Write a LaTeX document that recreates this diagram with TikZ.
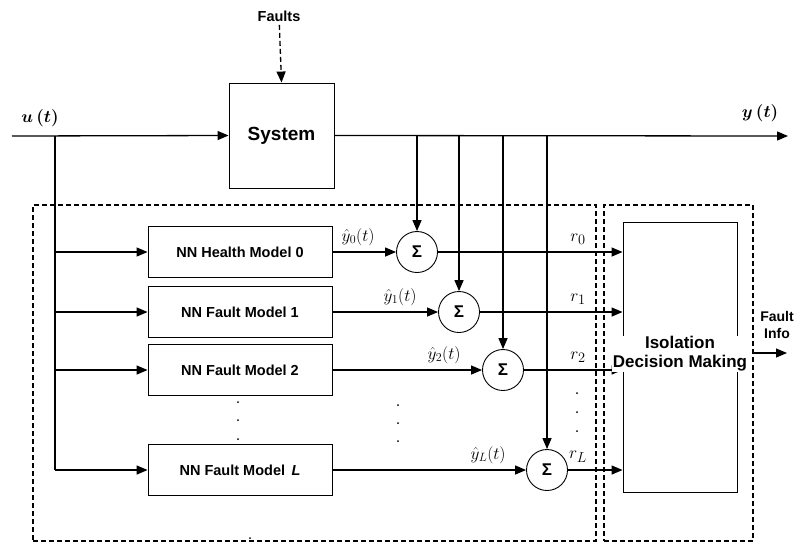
\documentclass[tikz,border=0pt]{standalone}
\usepackage{fontspec}
\setmainfont{Liberation Sans}
\usepackage{tikz}
\usetikzlibrary{positioning, arrows.meta}

\tikzset{
  sig/.style={-{Triangle[length=11pt,width=9pt]}, line width=1.3pt},
  wire/.style={line width=1.3pt},
  blockbox/.style={draw, line width=0.9pt, minimum width=184pt, minimum height=51pt,
    inner sep=0pt, font=\bfseries\fontsize{14.5}{17}\selectfont},
  sumnode/.style={draw, circle, line width=0.9pt, minimum size=41pt, inner sep=0pt,
    font=\bfseries\fontsize{17}{19}\selectfont},
  groupbox/.style={draw, line width=1.8pt, dash pattern=on 5pt off 3pt,
    inner sep=0pt},
  mathlab/.style={font=\fontsize{17}{19}\selectfont},
  reslab/.style={font=\fontsize{19}{21}\selectfont},
  boldmath/.style={font=\fontsize{19}{21}\selectfont\boldmath},
}

\begin{document}
\begin{tikzpicture}[x=1pt, y=-1pt]
    \useasboundingbox (0,0) rectangle (794,542);
    % Plant and fault input
    \node[blockbox, minimum width=105pt, minimum height=105pt,
          font=\bfseries\fontsize{19}{21}\selectfont] (sys) at (281.5,135.5) {System};
    \node[font=\bfseries\fontsize{14.5}{16}\selectfont] (faults) at (279,16) {Faults};
    \draw[sig, dash pattern=on 5pt off 3pt] (faults) -- (sys.north);
    \coordinate (uin) at (12,136);
    \coordinate (ubr) at (55,136);
    \coordinate (yout) at (788,136);
    \node[boldmath] (ulab) at (40,118) {$u\,(t)$};
    \node[boldmath] (ylab) at (760,113) {$y\,(t)$};
    \draw[sig] (uin) -- (sys.west);
    \draw[sig] (sys.east) -- (yout);
    % Group boxes
    \node[groupbox, minimum width=563pt, minimum height=336pt] (grpL) at (314.5,373) {};
    \node[groupbox, minimum width=149pt, minimum height=336pt] (grpR) at (678.5,373) {};
    % Model bank
    \foreach \i/\y/\txt in {0/252/NN Health Model 0, 1/312/NN Fault Model 1,
                            2/370/NN Fault Model 2, L/470/{NN Fault Model \,\textit{L}}} {
        \node[blockbox] (m\i) at (240,\y) {\txt};
        \draw[sig] (m\i.west -| ubr) -- (m\i.west);
    }
    \draw[wire] (ubr) -- (mL.west -| ubr);
    % Decision block
    \node[draw, line width=0.9pt, minimum width=114pt, minimum height=270pt] (dec) at (680,357) {};
    \coordinate (rcol) at (578,0);
    % Residual generators
    \foreach \i/\x/\y in {0/417/252, 1/459/312, 2/503/370, L/547/470} {
        \node[sumnode] (s\i) at (\x,\y) {Σ};
        \draw[sig] (s\i |- sys.east) -- (s\i.north);
        \draw[sig] (m\i.east) -- (s\i.west);
        \node[mathlab] (yh\i) at ([xshift=-38pt, yshift=15pt]s\i.west) {$\hat{y}_{\i}(t)$};
        \draw[sig] (s\i.east) -- (s\i.east -| dec.west);
        \node[reslab] (r\i) at ([yshift=13pt]s\i.east -| rcol) {$r_{\i}$};
    }
    \node[fill=white, inner sep=1pt, align=center,
          font=\bfseries\fontsize{17}{19}\selectfont] (dectxt) at (680,354) {Isolation\\Decision Making};
    % Fault information out
    \node[align=center, font=\bfseries\fontsize{14}{17}\selectfont] (finfo) at (777,325) {Fault\\Info};
    \coordinate (fout) at (787,353);
    \draw[sig] (grpR.east |- fout) -- (fout);
    % Ellipsis dots
    \foreach \x/\y in {238/402, 238/420, 238/439, 398/405, 398/423, 398/441,
                       577/393, 577/412, 577/431, 250/538} {
        \fill (\x,\y) circle (1pt);
    }
\end{tikzpicture}
\end{document}
